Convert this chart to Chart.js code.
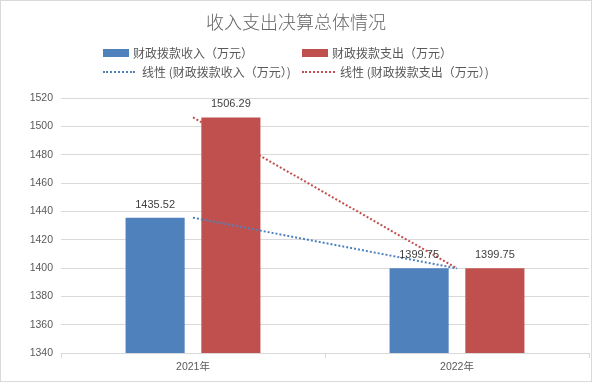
<!DOCTYPE html>
<html><head><meta charset="utf-8">
<script src="https://cdn.jsdelivr.net/npm/chart.js@4/dist/chart.umd.min.js"></script>
<style>
html,body{margin:0;padding:0;background:#fff;}
#wrap{position:relative;width:592px;height:382px;}
canvas{position:absolute;left:0;top:0;}
.t{position:absolute;font-family:"Noto Sans CJK SC","Noto Sans",sans-serif;color:#595959;white-space:nowrap;line-height:1;}
.box{position:absolute;height:8px;width:26px;}
.dot{position:absolute;height:0;width:32px;border-top:2px dotted;}
</style></head>
<body>
<div id="wrap">
<canvas id="c" width="592" height="382"></canvas>
<div class="t" id="title" style="left:0;width:592px;text-align:center;top:12px;font-size:18px;font-weight:300;color:#666">收入支出决算总体情况</div>
<div class="box" style="left:103px;top:49px;background:#4F81BD"></div>
<div class="t" id="lg1" style="left:133px;top:47px;font-size:12px;"></div>
<div class="box" style="left:302px;top:49px;background:#C0504D"></div>
<div class="t" id="lg2" style="left:332px;top:47px;font-size:12px;"></div>
<div class="dot" style="left:103px;top:71px;border-color:#4F81BD"></div>
<div class="t" id="lg3" style="left:142px;top:66px;font-size:12px;"></div>
<div class="dot" style="left:302px;top:71px;border-color:#C0504D;width:33px"></div>
<div class="t" id="lg4" style="left:340px;top:66px;font-size:12px;"></div>
</div>
<script>
const categories = ["2021年", "2022年"];
const seriesNames = ["财政拨款收入（万元）", "财政拨款支出（万元）"];
const income = [1435.52, 1399.75];
const expense = [1506.29, 1399.75];
const trendIncome = [1435.52, 1399.75];
const trendExpense = [1506.29, 1399.75];
const yTicks = [1340, 1360, 1380, 1400, 1420, 1440, 1460, 1480, 1500, 1520];

document.getElementById('lg1').textContent = seriesNames[0];
document.getElementById('lg2').textContent = seriesNames[1];
document.getElementById('lg3').textContent = '线性 (' + seriesNames[0] + ')';
document.getElementById('lg4').textContent = '线性 (' + seriesNames[1] + ')';

const numFont = '"Liberation Sans","Noto Sans CJK SC",sans-serif';

const bgBorder = {
  id: 'bgBorder',
  beforeDraw(chart) {
    const ctx = chart.ctx;
    ctx.save();
    ctx.fillStyle = '#fff';
    ctx.fillRect(0, 0, chart.width, chart.height);
    ctx.restore();
  },
  afterDraw(chart) {
    const ctx = chart.ctx;
    ctx.save();
    ctx.strokeStyle = '#d9d9d9';
    ctx.lineWidth = 1;
    ctx.strokeRect(0.5, 0.5, chart.width - 1, chart.height - 1);
    ctx.restore();
  }
};

const barLabels = {
  id: 'barLabels',
  afterDatasetsDraw(chart) {
    const ctx = chart.ctx;
    ctx.save();
    ctx.font = '11px ' + numFont;
    ctx.fillStyle = '#404040';
    ctx.textAlign = 'center';
    ctx.textBaseline = 'middle';
    chart.data.datasets.forEach((ds, i) => {
      if (ds.type !== 'bar') return;
      const meta = chart.getDatasetMeta(i);
      meta.data.forEach((el, j) => {
        ctx.fillText(ds.data[j].toFixed(2), el.x, el.y - 13);
      });
    });
    ctx.restore();
  }
};

new Chart(document.getElementById('c'), {
  data: {
    labels: categories,
    datasets: [
      { type: 'line', data: trendIncome, borderColor: '#4F81BD', borderWidth: 2, borderDash: [2, 2], pointRadius: 0, fill: false, order: 0 },
      { type: 'line', data: trendExpense, borderColor: '#C0504D', borderWidth: 2, borderDash: [2, 2], pointRadius: 0, fill: false, order: 0 },
      { type: 'bar', label: seriesNames[0], data: income, backgroundColor: '#4F81BD', categoryPercentage: 0.574, barPercentage: 0.78, order: 1 },
      { type: 'bar', label: seriesNames[1], data: expense, backgroundColor: '#C0504D', categoryPercentage: 0.574, barPercentage: 0.78, order: 1 }
    ]
  },
  options: {
    responsive: false,
    animation: false,
    devicePixelRatio: 1,
    layout: { padding: { left: 0, right: 3, top: 98, bottom: 0 } },
    plugins: { legend: { display: false }, title: { display: false }, tooltip: { enabled: false } },
    scales: {
      x: {
        offset: true,
        grid: { display: true, offset: true, drawOnChartArea: false, drawTicks: true, tickLength: 5, color: '#d9d9d9' },
        border: { display: true, color: '#d9d9d9', width: 1 },
        ticks: { font: { size: 10.5, family: numFont }, color: '#595959', padding: 3 },
        afterFit(s) { s.height = 29; }
      },
      y: {
        min: 1340, max: 1520,
        afterBuildTicks(s) { s.ticks = yTicks.map(v => ({ value: v })); },
        grid: { color: '#d9d9d9', drawTicks: false },
        border: { display: false },
        ticks: { font: { size: 10.5, family: numFont }, color: '#595959', padding: 8, callback: v => String(v) },
        afterFit(s) { s.width = 61; }
      }
    }
  },
  plugins: [bgBorder, barLabels]
});
</script>
</body></html>
